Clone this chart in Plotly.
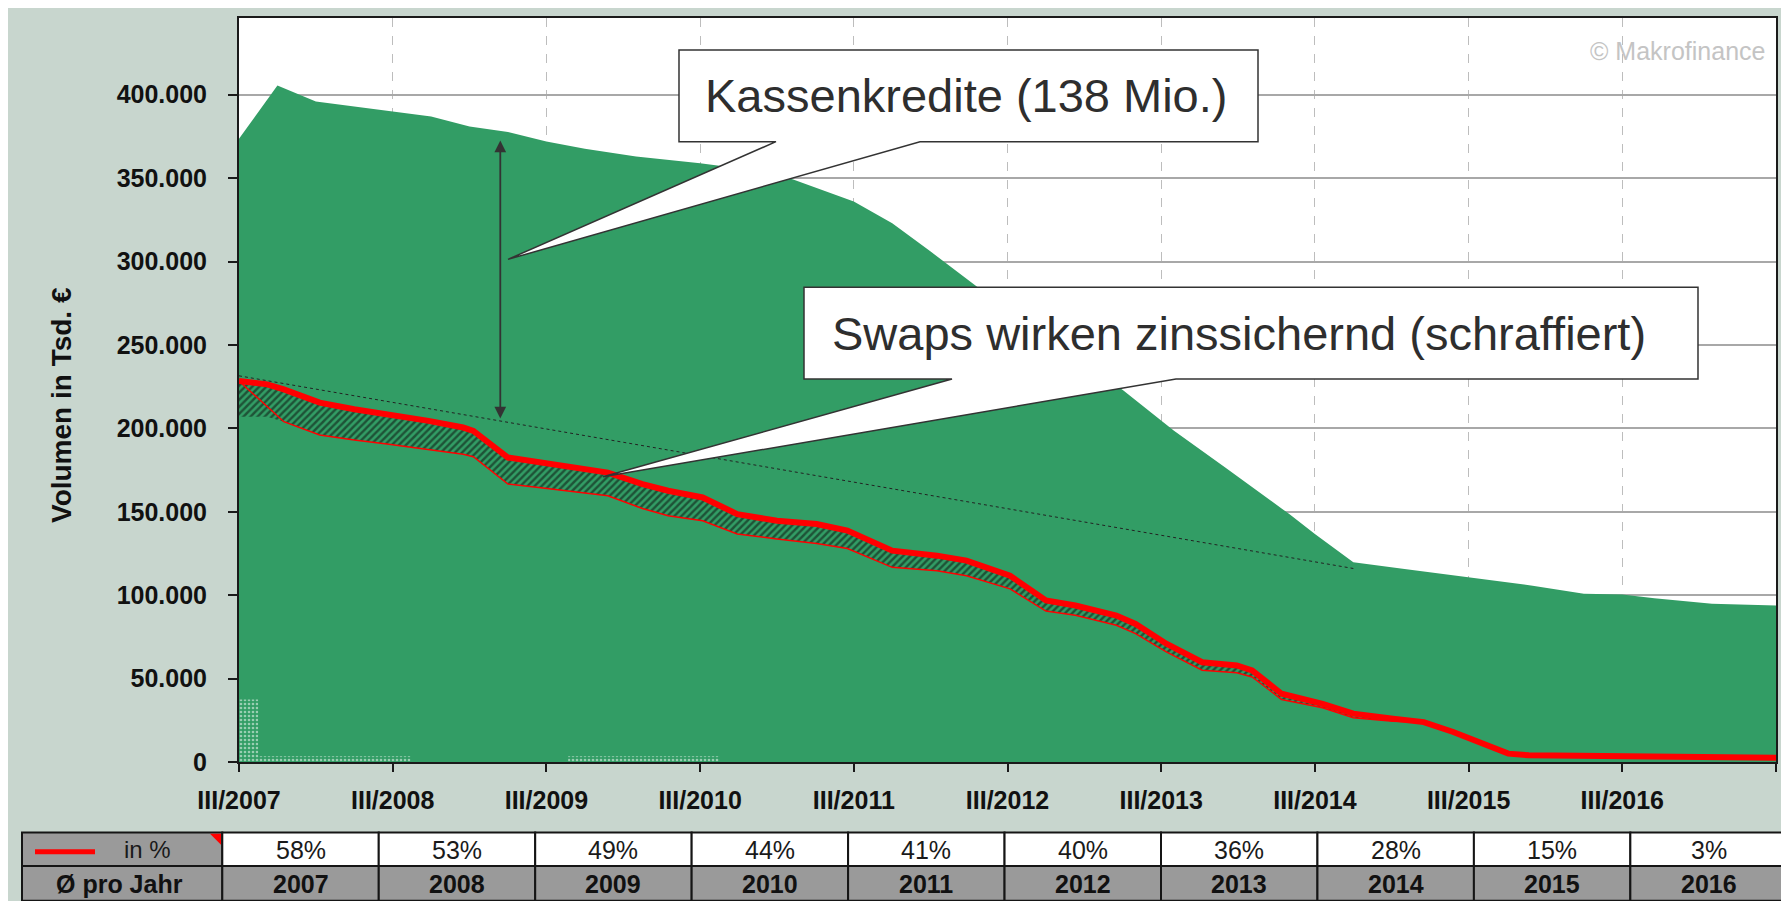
import plotly.graph_objects as go

# ---------------- data ----------------
# x = months since III/2007 (0 .. 120), y in Tsd. EUR
x_tick_vals = [0, 12, 24, 36, 48, 60, 72, 84, 96, 108, 120]
x_tick_labels = ["III/2007", "III/2008", "III/2009", "III/2010", "III/2011",
                 "III/2012", "III/2013", "III/2014", "III/2015", "III/2016", ""]
y_tick_vals = [0, 50000, 100000, 150000, 200000, 250000, 300000, 350000, 400000]
y_tick_labels = ["0", "50.000", "100.000", "150.000", "200.000", "250.000",
                 "300.000", "350.000", "400.000"]

# total volume incl. Kassenkredite (green area)
months_total = [0, 3, 6, 12, 15, 18, 21, 24, 27, 31, 36, 39, 43, 48, 51, 54, 57.6,
                69, 73, 77, 82, 84, 87, 91, 96, 101, 105, 108, 110.5, 115, 120]
kassen_total = [373600, 405500, 396000, 390000, 387000, 381000, 377600, 372000,
                367600, 363000, 359000, 356000, 350000, 336000, 323000, 306000,
                285000, 223000, 198500, 176500, 148600, 136700, 119700, 115700,
                110700, 105700, 100800, 100400, 98100, 94800, 93800]

# red line (upper) and lower edge of hatched swap band
swap_months = [0, 2.2, 3.5, 6.3, 9, 11.7, 14.8, 17.5, 18.3, 21, 23.4, 26.5, 28.8,
               31.5, 33.5, 36.2, 38.9, 42, 45.1, 47.5, 51, 54.5, 56.8, 60.2, 63,
               65.3, 68.5, 70, 72.4, 75.2, 77.9, 79.1, 81.4, 84.6, 87, 90.1, 92.5,
               94.8, 97.2, 99.1, 100.7, 109.4, 110, 120]
red_upper = [228400, 226400, 223400, 215400, 211500, 208500, 204500, 200500,
             198500, 182500, 179500, 176500, 173500, 166600, 162600, 158600,
             148600, 144600, 142700, 138700, 126700, 123700, 120700, 111700,
             96800, 93800, 87800, 82800, 70900, 59800, 57900, 54900, 40900,
             34900, 29000, 26000, 23900, 18000, 11000, 5000, 4000, 3400, 2500, 2500]
swap_lower = [207000, 207000, 204000, 196000, 193000, 190500, 187500, 184500,
              183000, 166600, 164600, 161600, 159600, 152000, 147600, 144600,
              136700, 133700, 131000, 128000, 116700, 114700, 111700, 103800,
              90500, 88000, 82000, 77000, 66000, 55000, 53500, 51000, 37500,
              32500, 26500, 24500, 23900, 18000, 11000, 5000, 4000, 3400, 2500, 2500]

# dotted (white dots) small area at the bottom left
dot_months = [0, 1.5, 13.4, 25.7, 37.5]
dot_values = [37500, 3500, 0, 3500, 0]

# dotted trend line
trend_months = [0, 87]
trend_values = [231500, 116000]

# double arrow (Kassenkredite span)
arrow_month = 20.4
arrow_top = 372500
arrow_bottom = 205000

# table below the chart
table_years = ["2007", "2008", "2009", "2010", "2011", "2012", "2013", "2014", "2015", "2016"]
table_pct = ["58%", "53%", "49%", "44%", "41%", "40%", "36%", "28%", "15%", "3%"]

# ---------------- styling ----------------
OFF = 8                     # page body margin of the browser
SW, SH = 1789, 901          # screenshot size
W, H = SW - OFF, SH - OFF   # figure size
PL, PR, PT, PB = 239, 1776, 16, 762   # plot area in screenshot pixels
BG = "#C8D6CE"
GREEN = "#329D65"
RED = "#FF0000"
FONT = "Liberation Sans, Arial, sans-serif"


def px(x):
    return (x - PL) / (PR - PL)


def py(y):
    return (PB - y) / (PB - PT)


fig = go.Figure()

fig.add_trace(go.Scatter(x=months_total, y=kassen_total, mode="lines",
                         line=dict(width=0, color=GREEN), fill="tozeroy",
                         fillcolor=GREEN, hoverinfo="skip", showlegend=False))

fig.add_trace(go.Scatter(x=dot_months, y=dot_values, mode="lines",
                         line=dict(width=0, shape="hv", color=GREEN), fill="tozeroy",
                         fillpattern=dict(shape=".", fgcolor="#FFFFFF", bgcolor=GREEN,
                                          size=4, solidity=0.35),
                         hoverinfo="skip", showlegend=False))

# hatched band
fig.add_trace(go.Scatter(x=swap_months, y=swap_lower, mode="lines",
                         line=dict(width=0, color=GREEN), hoverinfo="skip", showlegend=False))
fig.add_trace(go.Scatter(x=swap_months, y=red_upper, mode="lines",
                         line=dict(width=0, color=GREEN), fill="tonexty",
                         fillpattern=dict(shape="/", fgcolor="#0A0A0A", bgcolor=GREEN,
                                          size=5, solidity=0.48),
                         hoverinfo="skip", showlegend=False))

# thin red lower line
fig.add_trace(go.Scatter(x=[swap_months[0]] + swap_months[2:],
                         y=[red_upper[0]] + swap_lower[2:], mode="lines",
                         line=dict(width=1.5, color=RED), hoverinfo="skip", showlegend=False))

# trend dotted line
fig.add_trace(go.Scatter(x=trend_months, y=trend_values, mode="lines",
                         line=dict(width=1, color="#222222", dash="dot"),
                         hoverinfo="skip", showlegend=False))

# thick red line
fig.add_trace(go.Scatter(x=swap_months, y=red_upper, mode="lines",
                         line=dict(width=6, color=RED), hoverinfo="skip", showlegend=False))

shapes = []
annotations = []


def callout(box, base, tip):
    x0, y0, x1, y1 = box
    b0, b1 = base
    tx, ty = tip
    pts = [(x0, y0), (x1, y0), (x1, y1), (b1, y1), (tx, ty), (b0, y1), (x0, y1)]
    d = "M " + " L ".join(f"{px(a):.5f},{py(b):.5f}" for a, b in pts) + " Z"
    return dict(type="path", xref="paper", yref="paper", path=d, fillcolor="#FFFFFF",
                line=dict(color="#333333", width=1.5), layer="above")


shapes.append(callout((679, 48, 1258, 140), (776, 920), (508, 258)))
shapes.append(callout((804, 286, 1698, 378), (952, 1176), (603, 476)))

annotations.append(dict(xref="paper", yref="paper", x=px(966), y=py(94), text="Kassenkredite (138 Mio.)",
                        showarrow=False, xanchor="center", yanchor="middle",
                        font=dict(family=FONT, size=47, color="#2E2E2E")))
annotations.append(dict(xref="paper", yref="paper", x=px(1239), y=py(332),
                        text="Swaps wirken zinssichernd (schraffiert)",
                        showarrow=False, xanchor="center", yanchor="middle",
                        font=dict(family=FONT, size=47, color="#2E2E2E")))

# double arrow
annotations.append(dict(xref="x", yref="y", axref="x", ayref="y", x=arrow_month, y=arrow_top,
                        ax=arrow_month, ay=arrow_bottom, text="", showarrow=True,
                        arrowhead=2, arrowside="end+start", arrowsize=1.3, arrowwidth=1.8,
                        arrowcolor="#333333", standoff=0, startstandoff=0))

# watermark
annotations.append(dict(xref="paper", yref="paper", x=px(1767), y=py(49), text="© Makrofinance",
                        showarrow=False, xanchor="right", yanchor="middle",
                        font=dict(family=FONT, size=25, color="#C4C4C4")))

# y-axis title
annotations.append(dict(xref="paper", yref="paper", x=px(62), y=py(404), text="Volumen in Tsd. €",
                        textangle=-90, showarrow=False, xanchor="center", yanchor="middle",
                        font=dict(family=FONT, size=28, color="#111111", weight="bold")))

# table
col_edges = [22] + [222.3 + i * 156.45 for i in range(11)]
row_edges = [832.7, 866.3, 901]
GREY = "#9A9A9A"
for ci in range(len(col_edges) - 1):
    for ri in range(2):
        fill = GREY if (ci == 0 or ri == 1) else "#FFFFFF"
        shapes.append(dict(type="rect", xref="paper", yref="paper",
                           x0=px(col_edges[ci]), x1=px(col_edges[ci + 1]),
                           y0=py(row_edges[ri]), y1=py(row_edges[ri + 1]),
                           fillcolor=fill, line=dict(color="#151515", width=2), layer="above"))
# legend line and comment marker
shapes.append(dict(type="line", xref="paper", yref="paper", x0=px(35), x1=px(95), y0=py(852), y1=py(852),
                   line=dict(color=RED, width=5), layer="above"))
shapes.append(dict(type="path", xref="paper", yref="paper",
                   path=f"M {px(210):.5f},{py(834):.5f} L {px(221):.5f},{py(834):.5f} L {px(221):.5f},{py(845):.5f} Z",
                   fillcolor=RED, line=dict(width=0), layer="above"))

annotations.append(dict(xref="paper", yref="paper", x=px(147), y=py(850), text="in %", showarrow=False,
                        xanchor="center", yanchor="middle", font=dict(family=FONT, size=24, color="#1A1A1A")))
annotations.append(dict(xref="paper", yref="paper", x=px(120), y=py(884), text="Ø pro Jahr", showarrow=False,
                        xanchor="center", yanchor="middle",
                        font=dict(family=FONT, size=25, color="#111111", weight="bold")))
for i, (yr, pc) in enumerate(zip(table_years, table_pct)):
    cx = (col_edges[i + 1] + col_edges[i + 2]) / 2
    annotations.append(dict(xref="paper", yref="paper", x=px(cx), y=py(850), text=pc, showarrow=False,
                            xanchor="center", yanchor="middle",
                            font=dict(family=FONT, size=25, color="#1A1A1A")))
    annotations.append(dict(xref="paper", yref="paper", x=px(cx), y=py(884), text=yr, showarrow=False,
                            xanchor="center", yanchor="middle",
                            font=dict(family=FONT, size=25, color="#111111", weight="bold")))

fig.update_layout(
    width=W, height=H, autosize=False,
    margin=dict(l=PL - OFF, r=W - (PR - OFF), t=PT - OFF, b=H - (PB - OFF), pad=0),
    paper_bgcolor=BG, plot_bgcolor="#FFFFFF",
    shapes=shapes, annotations=annotations, showlegend=False,
    xaxis=dict(range=[0, 120], tickvals=x_tick_vals, ticktext=x_tick_labels,
               showgrid=True, gridcolor="#BDBDBD", griddash="dash", gridwidth=1,
               zeroline=False, showline=True, linecolor="#1A1A1A", linewidth=2, mirror=True,
               ticks="outside", ticklen=8, tickwidth=1.5, tickcolor="#1A1A1A",
               ticklabelstandoff=7,
               tickfont=dict(family=FONT, size=25, color="#111111", weight="bold")),
    yaxis=dict(range=[0, 446000], tickvals=y_tick_vals, ticktext=y_tick_labels,
               showgrid=True, gridcolor="#A8A8A8", gridwidth=1.5,
               zeroline=False, showline=True, linecolor="#1A1A1A", linewidth=2, mirror=True,
               ticks="outside", ticklen=9, tickwidth=1.5, tickcolor="#1A1A1A",
               ticklabelstandoff=16,
               tickfont=dict(family=FONT, size=25, color="#111111", weight="bold")),
)

fig.write_html("out.html")
